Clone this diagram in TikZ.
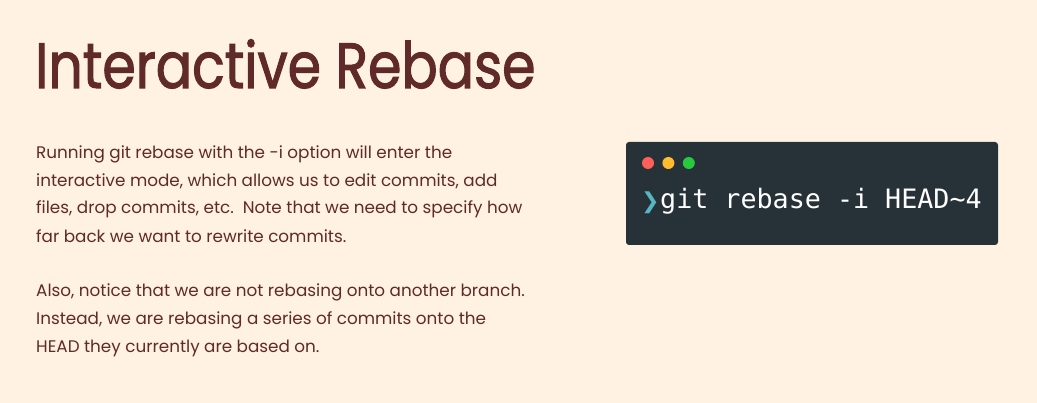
\documentclass[tikz,border=0pt]{standalone}
\usepackage{fontspec}
\setmainfont{Poppins}
\newfontfamily\titlefont[FakeStretch=0.84,FakeBold=1.6]{Poppins}
\newfontfamily\termfont{DejaVu Sans Mono}
\newfontfamily\symfont{DejaVu Sans}
\usetikzlibrary{positioning}
\definecolor{paper}{RGB}{255,242,226}
\definecolor{ink}{RGB}{96,42,42}
\definecolor{termbg}{RGB}{38,50,56}
\definecolor{dotred}{RGB}{255,95,86}
\definecolor{dotyellow}{RGB}{255,189,46}
\definecolor{dotgreen}{RGB}{39,201,63}
\definecolor{prompt}{RGB}{86,182,194}
\begin{document}
\begin{tikzpicture}[x=1pt,y=-1pt,
    dot/.style={circle,inner sep=0pt,minimum size=12pt}]
               % background
               \fill [paper] (0,0) rectangle (1037,403);
               \useasboundingbox (0,0) rectangle (1037,403);
               % title
               \node [anchor=base west,inner sep=0pt,color=ink,font=\titlefont\fontsize{64pt}{64pt}\selectfont] (title) at (35,88) {Interactive Rebase};
               % body text (anchored at the baseline of its last line)
               \node [anchor=base west,inner sep=0pt,align=left,color=ink,font=\fontsize{16.8pt}{28pt}\selectfont] (body) at (36,353) {Running git rebase with the -i option will enter the\\interactive mode, which allows us to edit commits, add\\files, drop commits, etc.\ \ Note that we need to specify how\\far back we want to rewrite commits.\\[27pt]Also, notice that we are not rebasing onto another branch.\\Instead, we are rebasing a series of commits onto the\\HEAD they currently are based on.};
               % terminal box
               \node [fill=termbg,rounded corners=3pt,minimum width=372pt,minimum height=103pt,inner sep=0pt] (term) at (812,193.5) {};
               % window dots
               \node [dot,fill=dotred] (red) at (648,163) {};
               \node [dot,fill=dotyellow,right=8pt of red] (yellow) {};
               \node [dot,fill=dotgreen,right=8pt of yellow] (green) {};
               % command
               \node [anchor=base west,inner sep=0pt,color=prompt,font=\symfont\fontsize{22pt}{22pt}\selectfont] (arrow) at (641,209) {❯};
               \node [anchor=base west,inner sep=0pt,color=white,font=\termfont\fontsize{26.7pt}{26.7pt}\selectfont] (cmd) at (660,209) {git rebase -i HEAD\char`~4};
\end{tikzpicture}
\end{document}
